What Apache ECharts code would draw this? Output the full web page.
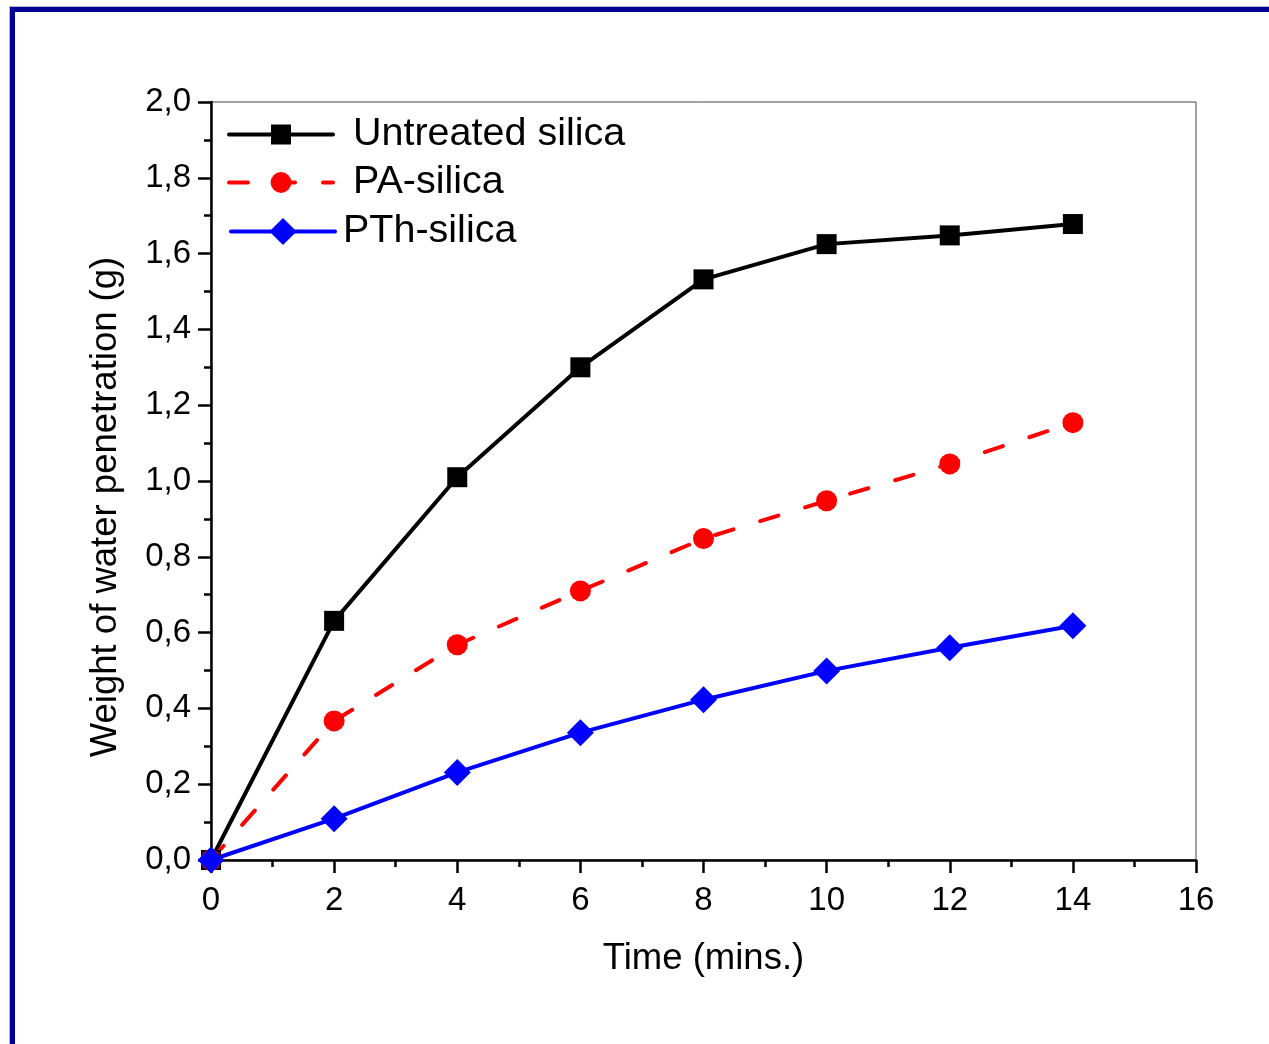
<!DOCTYPE html>
<html>
<head>
<meta charset="utf-8">
<script src="https://cdn.jsdelivr.net/npm/echarts@6/dist/echarts.min.js"></script>
<style>
html,body{margin:0;padding:0;background:#fff;}
#chart{width:1269px;height:1044px;}
</style>
</head>
<body>
<div id="chart"></div>
<script>
const time = [0, 2, 4, 6, 8, 10, 12, 14];
const untreated = [0, 0.631, 1.010, 1.300, 1.532, 1.625, 1.648, 1.678];
const paSilica = [0, 0.367, 0.568, 0.710, 0.848, 0.948, 1.045, 1.154];
const pthSilica = [0, 0.109, 0.231, 0.336, 0.423, 0.499, 0.560, 0.618];
const seriesNames = ['Untreated silica', 'PA-silica', 'PTh-silica'];
const xTitle = 'Time (mins.)';
const yTitle = 'Weight of water penetration (g)';

const FONT = '"Liberation Sans", Arial, sans-serif';
const pairs = arr => time.map((t, i) => [t, arr[i]]);

const chart = echarts.init(document.getElementById('chart'));
const legendText = pad => ({ fontFamily: FONT, fontSize: 39.5, color: '#000', padding: [0, 0, 0, pad] });
const legendCommon = {
  orient: 'vertical', padding: 0, itemWidth: 104,
  lineStyle: { width: 4 },
  selectedMode: false
};
chart.setOption({
  animation: false,
  backgroundColor: '#fff',
  graphic: [
    { type: 'rect', shape: { x: 10, y: 7, width: 1259, height: 5 }, style: { fill: '#000099' } },
    { type: 'rect', shape: { x: 10, y: 7, width: 5, height: 1037 }, style: { fill: '#000099' } },
    { type: 'rect', shape: { x: 9, y: 6, width: 1260, height: 1 }, style: { fill: '#b8b8c8' } },
    { type: 'rect', shape: { x: 9, y: 6, width: 1, height: 1038 }, style: { fill: '#b8b8c8' } }
  ],
  grid: {
    left: 211, top: 102, width: 985, height: 758,
    show: true, borderColor: '#444', borderWidth: 1, backgroundColor: 'transparent'
  },
  legend: [
    Object.assign({}, legendCommon, { data: [seriesNames[0]], left: 227, top: 114.5, itemHeight: 25, textStyle: legendText(15) }),
    Object.assign({}, legendCommon, { data: [seriesNames[1]], left: 227, top: 162.5, itemHeight: 26, textStyle: legendText(15) }),
    Object.assign({}, legendCommon, { data: [seriesNames[2]], left: 229, top: 211.5, itemHeight: 34, textStyle: legendText(3) })
  ],
  xAxis: {
    type: 'value', min: 0, max: 16, interval: 2,
    name: xTitle, nameLocation: 'middle', nameGap: 80,
    nameTextStyle: { fontFamily: FONT, fontSize: 36.5, color: '#000' },
    axisLine: { show: true, onZero: false, lineStyle: { color: '#000', width: 2.5 } },
    axisTick: { show: true, inside: false, length: 13, lineStyle: { color: '#000', width: 2.5 } },
    minorTick: { show: true, splitNumber: 2, length: 7, lineStyle: { color: '#000', width: 2.5 } },
    axisLabel: { fontFamily: FONT, fontSize: 33, color: '#000', margin: 24 },
    splitLine: { show: false }
  },
  yAxis: {
    type: 'value', min: 0, max: 2, interval: 0.2,
    name: yTitle, nameLocation: 'middle', nameGap: 87,
    nameTextStyle: { fontFamily: FONT, fontSize: 36.5, color: '#000', padding: [0, 52, 0, 0] },
    axisLine: { show: true, onZero: false, lineStyle: { color: '#000', width: 2.5 } },
    axisTick: { show: true, inside: false, length: 13, lineStyle: { color: '#000', width: 2.5 } },
    minorTick: { show: true, splitNumber: 2, length: 7, lineStyle: { color: '#000', width: 2.5 } },
    axisLabel: { fontFamily: FONT, fontSize: 33, color: '#000', margin: 20,
      formatter: v => v.toFixed(1).replace('.', ',') },
    splitLine: { show: false }
  },
  series: [
    { name: seriesNames[0], type: 'line', data: pairs(untreated),
      symbol: 'rect', symbolSize: 20, color: '#000',
      lineStyle: { color: '#000', width: 4, cap: 'round' }, itemStyle: { color: '#000' } },
    { name: seriesNames[1], type: 'line', data: pairs(paSilica),
      symbol: 'circle', symbolSize: 21, color: '#ff0000',
      lineStyle: { color: '#ff0000', width: 4, type: [19, 28], cap: 'round' }, itemStyle: { color: '#ff0000' } },
    { name: seriesNames[2], type: 'line', data: pairs(pthSilica),
      symbol: 'diamond', symbolSize: [27, 27], color: '#0000ff',
      lineStyle: { color: '#0000ff', width: 4, cap: 'round' }, itemStyle: { color: '#0000ff' } }
  ]
});
</script>
</body>
</html>
